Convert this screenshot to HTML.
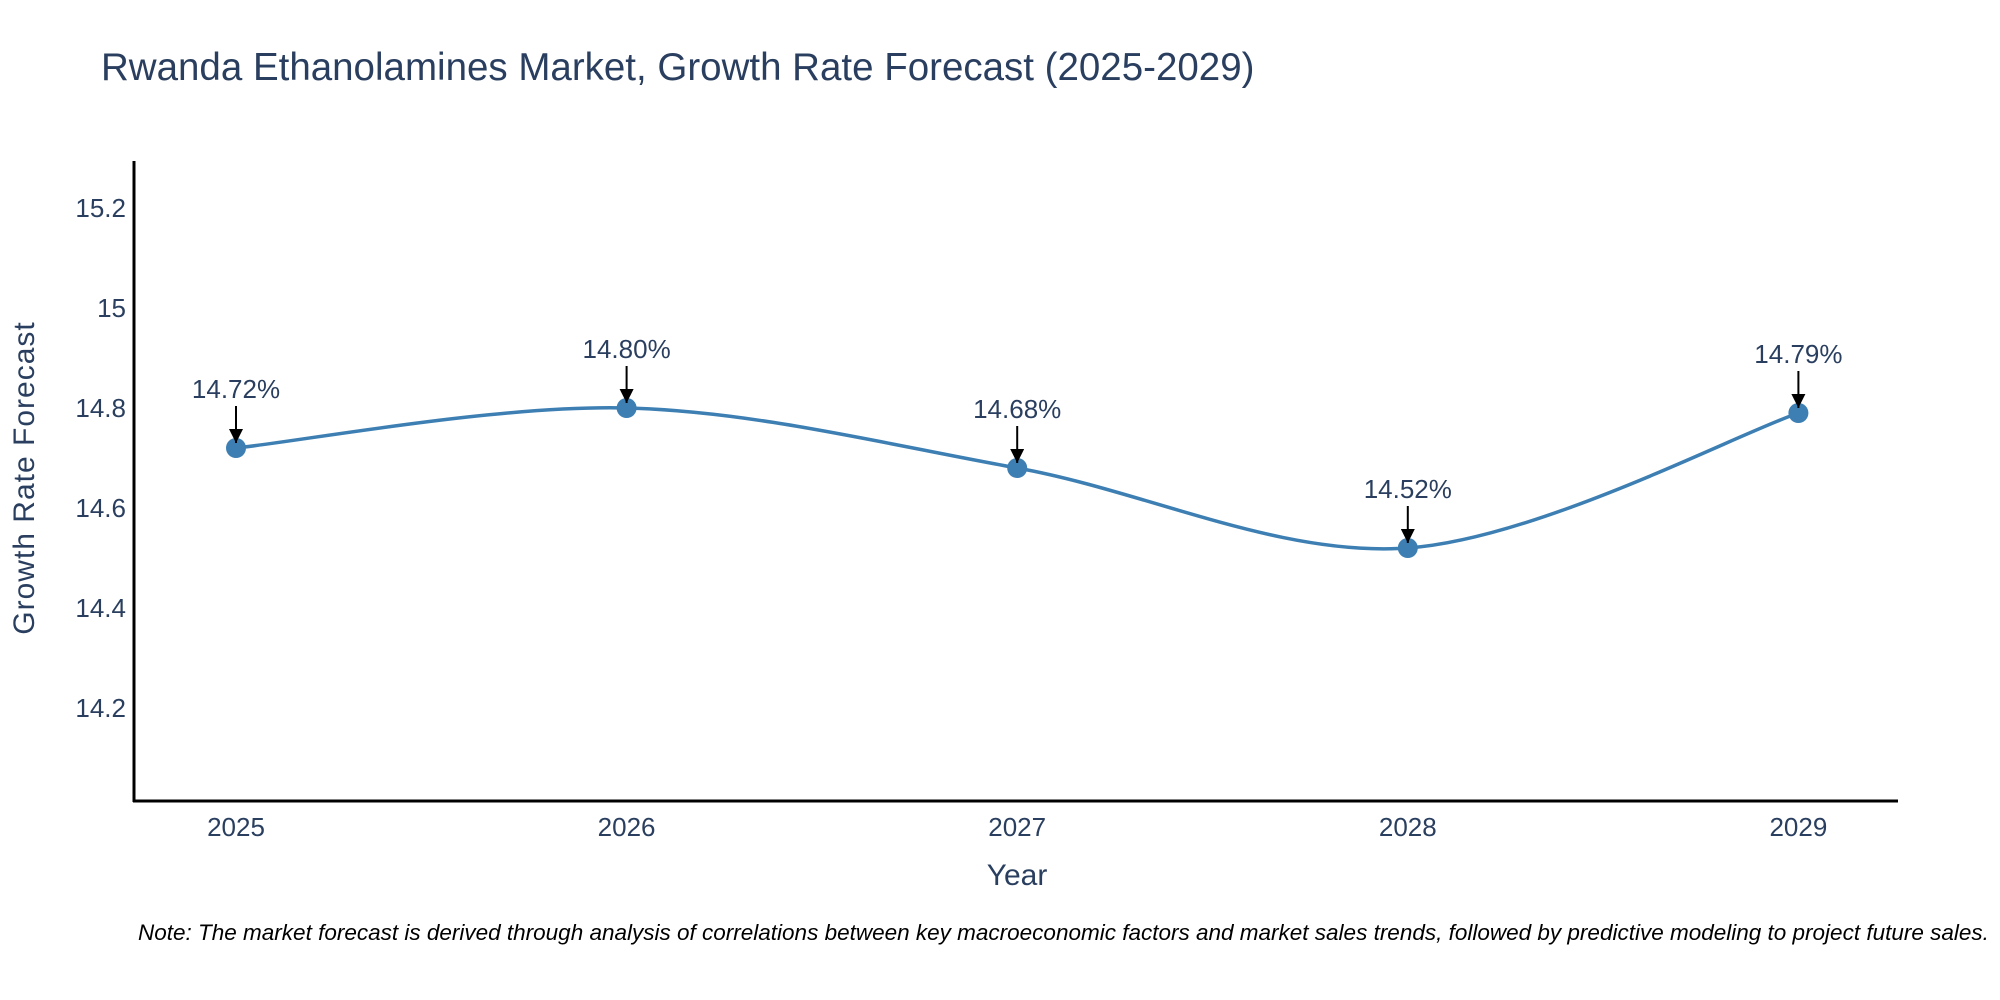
<!DOCTYPE html>
<html><head><meta charset="utf-8"><style>
body{margin:0;background:#fff;}
svg{display:block;font-family:"Liberation Sans",sans-serif;}
</style></head><body>
<svg id="chart" width="2000" height="1000">
<defs>
<marker id="ah" viewBox="0 0 10 10" refX="10" refY="5" markerWidth="14" markerHeight="14" orient="auto" markerUnits="userSpaceOnUse"><path d="M0,0 L10,5 L0,10 z" fill="#000"/></marker></defs>
<text x="101" y="80" font-size="38.5" fill="#2a3f5f">Rwanda Ethanolamines Market, Growth Rate Forecast (2025-2029)</text>
<g id="yticks"></g><g id="xticks"></g>
<line x1="134" y1="161" x2="134" y2="802" stroke="#000" stroke-width="3"/>
<line x1="133" y1="801" x2="1898" y2="801" stroke="#000" stroke-width="3"/>
<text x="1017" y="885" font-size="30" fill="#2a3f5f" text-anchor="middle">Year</text>
<text transform="translate(34,478) rotate(-90)" font-size="30" letter-spacing="1" fill="#2a3f5f" text-anchor="middle">Growth Rate Forecast</text>
<g id="series"></g>
<text x="138" y="940" font-size="22.5" font-style="italic" fill="#000">Note: The market forecast is derived through analysis of correlations between key macroeconomic factors and market sales trends, followed by predictive modeling to project future sales.</text>
</svg>
<script>
const years = [2025, 2026, 2027, 2028, 2029];
const growth = [14.72, 14.80, 14.68, 14.52, 14.79];
const yTicks = [14.2, 14.4, 14.6, 14.8, 15.0, 15.2];
const yTickLabels = ["14.2", "14.4", "14.6", "14.8", "15", "15.2"];
const NS = "http://www.w3.org/2000/svg";
const xs = v => 236 + (v - 2025) * 390.6;
const ys = v => 408 - (v - 14.8) * 500;
function mk(tag, attrs, parent){const e=document.createElementNS(NS,tag);for(const k in attrs)e.setAttribute(k,attrs[k]);parent.appendChild(e);return e;}
const yg=document.getElementById('yticks');
yTicks.forEach((t,i)=>{const e=mk('text',{x:126,y:ys(t)+9,'font-size':26,fill:'#2a3f5f','text-anchor':'end'},yg);e.textContent=yTickLabels[i];

});
const xg=document.getElementById('xticks');
years.forEach(y=>{const e=mk('text',{x:xs(y),y:836,'font-size':26,fill:'#2a3f5f','text-anchor':'middle'},xg);e.textContent=String(y);

});
const sg=document.getElementById('series');
const P=years.map((y,i)=>[xs(y),ys(growth[i])]);
let d=`M${P[0][0]},${P[0][1]}`;const s=0.33;
for(let i=0;i<P.length-1;i++){const p0=P[Math.max(0,i-1)],p1=P[i],p2=P[i+1],p3=P[Math.min(P.length-1,i+2)];
d+=` C${p1[0]+(p2[0]-p0[0])*s/2},${p1[1]+(p2[1]-p0[1])*s/2} ${p2[0]-(p3[0]-p1[0])*s/2},${p2[1]-(p3[1]-p1[1])*s/2} ${p2[0]},${p2[1]}`;}
const line=mk('path',{d:d,fill:'none',stroke:'#3d7fb3','stroke-width':3.5},sg);


P.forEach((p,i)=>{const c=mk('circle',{cx:p[0],cy:p[1],r:10,fill:'#3d7fb3'},sg);


const a=mk('line',{x1:p[0],y1:p[1]-42,x2:p[0],y2:p[1]-5,stroke:'#000','stroke-width':2,'marker-end':'url(#ah)'},sg);


const t=mk('text',{x:p[0],y:p[1]-50,'font-size':26,fill:'#2a3f5f','text-anchor':'middle'},sg);t.textContent=growth[i].toFixed(2)+'%';

});
</script>
</body></html>
